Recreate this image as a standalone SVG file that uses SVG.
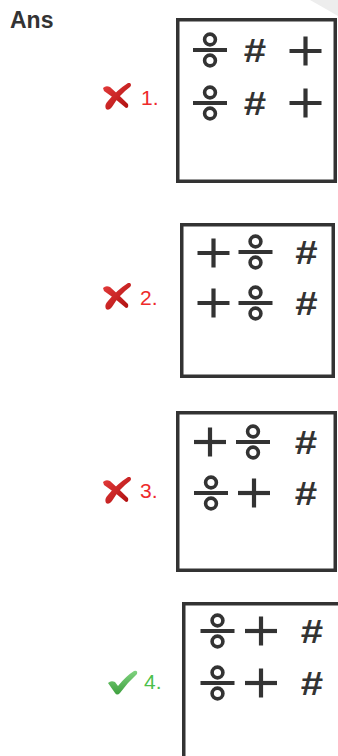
<svg xmlns="http://www.w3.org/2000/svg" xmlns:xlink="http://www.w3.org/1999/xlink" width="338" height="756" viewBox="0 0 338 756">
  <style>
    .box { fill: #ffffff; stroke: #333333; stroke-width: 3.5; }
    .sym { stroke: #333333; fill: none; }
    .hash { font-family: "Liberation Sans", Arial, sans-serif; font-size: 33px; font-weight: bold; fill: #333333; text-anchor: middle; }
    .ans { font-family: "Liberation Sans", Arial, sans-serif; font-size: 23px; font-weight: bold; fill: #333333; }
    .lblred { font-family: "Liberation Sans", Arial, sans-serif; font-size: 21px; fill: #ee2a2a; }
    .lblgreen { font-family: "Liberation Sans", Arial, sans-serif; font-size: 21px; fill: #4cbf4c; }
  </style>
  <defs>
    <g id="dv" class="sym">
      <line x1="-17" y1="0" x2="17" y2="0" stroke-width="4"/>
      <circle cx="0" cy="-10.5" r="5.4" stroke-width="3.6"/>
      <circle cx="0" cy="10.5" r="5.4" stroke-width="3.6"/>
    </g>
    <g id="pl" class="sym">
      <line x1="-16" y1="0" x2="16" y2="0" stroke-width="4.2"/>
      <line x1="0" y1="-14.5" x2="0" y2="14.5" stroke-width="4.2"/>
    </g>
    <linearGradient id="redg" x1="0" y1="0" x2="1" y2="1">
      <stop offset="0" stop-color="#e23a3a"/>
      <stop offset="1" stop-color="#b01010"/>
    </linearGradient>
    <linearGradient id="greeng" x1="0" y1="0" x2="0" y2="1">
      <stop offset="0" stop-color="#7fd27f"/>
      <stop offset="1" stop-color="#3fa03f"/>
    </linearGradient>
    <g id="xmark">
      <path d="M1,5 Q4,2 8,4 Q17,12 26,21 Q27,25 24,25 Q14,16 2,8 Z" fill="url(#redg)"/>
      <path d="M28,0 Q30,2 28,4 Q17,12 10,24 Q7,28 4,26 Q2,22 6,18 Q15,7 26,0 Z" fill="url(#redg)"/>
    </g>
    <g id="check">
      <path d="M1,13 Q4,10 8,12 L11,16 Q19,6 27,1 Q31,0 30,4 Q21,12 13,23 Q10,26 8,23 Z" fill="url(#greeng)"/>
    </g>
  </defs>

  <path d="M310,0 L338,0 L338,16 Q326,9 310,0 Z" fill="#ededed"/>

  <g id="title">
    <text class="ans" x="10" y="28">Ans</text>
  </g>

  <g id="option1">
    <use xlink:href="#xmark" x="102" y="83"/>
    <text class="lblred" x="141" y="105">1.</text>
    <rect class="box" x="177.75" y="19.75" width="157.5" height="161.5"/>
    <use xlink:href="#dv" x="210" y="50"/>
    <text class="hash" transform="translate(255,62) scale(1.22,1)">#</text>
    <use xlink:href="#pl" x="305.5" y="51"/>
    <use xlink:href="#dv" x="210" y="103"/>
    <text class="hash" transform="translate(255,115) scale(1.22,1)">#</text>
    <use xlink:href="#pl" x="305.5" y="103"/>
  </g>

  <g id="option2">
    <use xlink:href="#xmark" x="102" y="283"/>
    <text class="lblred" x="140" y="305">2.</text>
    <rect class="box" x="181.75" y="224.75" width="151.5" height="151.5"/>
    <use xlink:href="#pl" x="213.5" y="253"/>
    <use xlink:href="#dv" x="255.5" y="252"/>
    <text class="hash" transform="translate(306.5,264) scale(1.22,1)">#</text>
    <use xlink:href="#pl" x="213.5" y="303"/>
    <use xlink:href="#dv" x="255.5" y="303"/>
    <text class="hash" transform="translate(306.5,315) scale(1.22,1)">#</text>
  </g>

  <g id="option3">
    <use xlink:href="#xmark" x="102" y="477"/>
    <text class="lblred" x="140" y="498">3.</text>
    <rect class="box" x="177.75" y="412.75" width="157.5" height="157.5"/>
    <use xlink:href="#pl" x="210" y="442"/>
    <use xlink:href="#dv" x="253" y="442"/>
    <text class="hash" transform="translate(306,454) scale(1.22,1)">#</text>
    <use xlink:href="#dv" x="211" y="493"/>
    <use xlink:href="#pl" x="254" y="493"/>
    <text class="hash" transform="translate(306,505) scale(1.22,1)">#</text>
  </g>

  <g id="option4">
    <use xlink:href="#check" x="107" y="670"/>
    <text class="lblgreen" x="144" y="689">4.</text>
    <rect class="box" x="183.75" y="603.75" width="200" height="200"/>
    <use xlink:href="#dv" x="217.5" y="631"/>
    <use xlink:href="#pl" x="261" y="631"/>
    <text class="hash" transform="translate(312,643) scale(1.22,1)">#</text>
    <use xlink:href="#dv" x="217.5" y="683"/>
    <use xlink:href="#pl" x="261" y="683"/>
    <text class="hash" transform="translate(312,695) scale(1.22,1)">#</text>
  </g>
</svg>
